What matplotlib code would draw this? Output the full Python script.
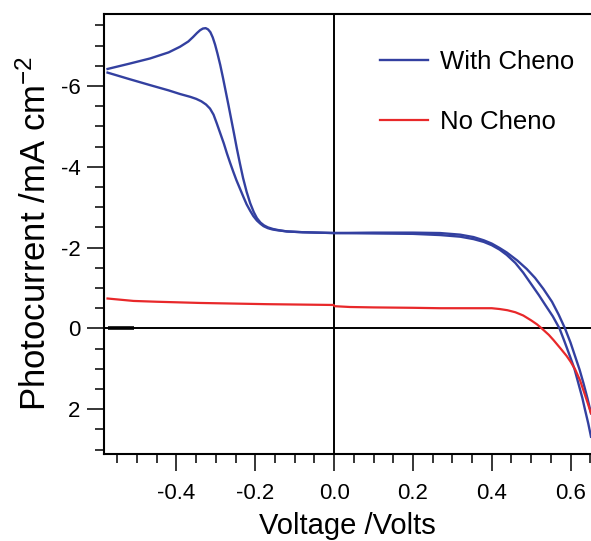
import matplotlib
matplotlib.use("Agg")
import matplotlib.pyplot as plt
from matplotlib.ticker import MultipleLocator, FixedLocator
from matplotlib.lines import Line2D

plt.rcParams['font.family'] = ['Liberation Sans', 'DejaVu Sans']
plt.rcParams['mathtext.fontset'] = 'custom'
plt.rcParams['mathtext.rm'] = 'Liberation Sans'
plt.rcParams['mathtext.it'] = 'Liberation Sans'
plt.rcParams['mathtext.bf'] = 'Liberation Sans'

# ---- data ----
# With Cheno: branch A (left lower branch, right inner branch)
cheno_a_v = [-0.575, -0.52, -0.467, -0.42, -0.391, -0.365, -0.35, -0.337, -0.325, -0.315, -0.306,
             -0.298, -0.289, -0.28, -0.272, -0.264, -0.256, -0.248, -0.239, -0.230, -0.222,
             -0.213, -0.205, -0.196, -0.187, -0.179, -0.168, -0.157, -0.145, -0.12,
             -0.08, -0.04, 0.0, 0.1, 0.2, 0.27, 0.32, 0.354, 0.38, 0.40, 0.42, 0.438, 0.46,
             0.48, 0.50, 0.52, 0.536, 0.555, 0.572, 0.585, 0.599, 0.61, 0.62, 0.63, 0.637,
             0.645, 0.652]
cheno_a_j = [-6.33, -6.17, -6.02, -5.89, -5.80, -5.73, -5.68, -5.62, -5.54, -5.44, -5.29,
             -5.08, -4.83, -4.58, -4.33, -4.10, -3.88, -3.67, -3.46, -3.25, -3.07,
             -2.91, -2.78, -2.67, -2.59, -2.53, -2.48, -2.45, -2.43, -2.40,
             -2.38, -2.37, -2.36, -2.35, -2.34, -2.31, -2.27, -2.21, -2.14, -2.06, -1.95, -1.82, -1.62,
             -1.38, -1.10, -0.82, -0.58, -0.30, 0.0, 0.33, 0.70, 1.00, 1.36, 1.72, 2.02,
             2.35, 2.68]
# With Cheno: branch B (upper branch with peak, right outer branch)
cheno_b_v = [-0.575, -0.52, -0.467, -0.42, -0.391, -0.37, -0.358, -0.348, -0.34, -0.333,
             -0.326, -0.32, -0.314, -0.308, -0.302, -0.296, -0.289, -0.282, -0.275, -0.268,
             -0.261, -0.254, -0.247, -0.239, -0.231, -0.222, -0.213, -0.204, -0.196, -0.187,
             -0.178, -0.168, -0.155, -0.14, -0.12, -0.08, -0.04, 0.0,
             0.1, 0.2, 0.269, 0.32, 0.354, 0.38, 0.40, 0.42, 0.438, 0.465, 0.489, 0.51, 0.531,
             0.553, 0.57, 0.586, 0.60, 0.612, 0.623, 0.633, 0.643, 0.652]
cheno_b_j = [-6.42, -6.55, -6.68, -6.83, -6.97, -7.10, -7.21, -7.31, -7.38, -7.42,
             -7.43, -7.40, -7.33, -7.20, -7.02, -6.80, -6.52, -6.20, -5.86, -5.52,
             -5.17, -4.82, -4.46, -4.08, -3.72, -3.38, -3.10, -2.88, -2.73, -2.62,
             -2.55, -2.50, -2.46, -2.43, -2.40, -2.38, -2.37, -2.36,
             -2.37, -2.37, -2.36, -2.32, -2.26, -2.18, -2.10, -1.99, -1.88, -1.68, -1.47, -1.25, -0.98,
             -0.66, -0.34, 0.0, 0.35, 0.70, 1.02, 1.36, 1.73, 2.10]
# No Cheno
nocheno_v = [-0.575, -0.509, -0.45, -0.34, -0.171, -0.001, 0.001, 0.04, 0.1, 0.2, 0.269,
             0.38, 0.40, 0.42, 0.44, 0.46, 0.48, 0.50, 0.515, 0.527, 0.545, 0.557, 0.575,
             0.59, 0.60, 0.612, 0.624, 0.641, 0.652]
nocheno_j = [-0.74, -0.68, -0.66, -0.63, -0.60, -0.58, -0.55, -0.53, -0.52, -0.51, -0.50,
             -0.50, -0.50, -0.48, -0.45, -0.40, -0.32, -0.20, -0.10, 0.0, 0.16, 0.29, 0.50,
             0.68, 0.82, 1.02, 1.28, 1.77, 2.10]
# short dark trace
dark_v = [-0.575, -0.509]
dark_j = [0.0, 0.0]

x_major = [-0.4, -0.2, 0.0, 0.2, 0.4, 0.6]
x_labels = ['-0.4', '-0.2', '0.0', '0.2', '0.4', '0.6']
y_major = [-6, -4, -2, 0, 2]
y_labels = ['-6', '-4', '-2', '0', '2']

blue = '#3340a0'
red = '#e8282a'

fig = plt.figure(figsize=(5.91, 5.41), dpi=100)
ax = fig.add_axes([104/591, 1-453.7/541, (591-104)/591, (453.7-14)/541])

ax.axhline(0, color='black', lw=1.4, zorder=1)
ax.axvline(0, color='black', lw=1.4, zorder=1)
ax.plot(dark_v, dark_j, color='black', lw=2.6, zorder=2, solid_capstyle='butt')
ax.plot(cheno_a_v, cheno_a_j, color=blue, lw=1.7, zorder=3)
ax.plot(cheno_b_v, cheno_b_j, color=blue, lw=1.7, zorder=3)
ax.plot(nocheno_v, nocheno_j, color=red, lw=1.6, zorder=3)

ax.set_xlim(-0.584, 0.652)
ax.set_ylim(3.10, -7.78)

ax.xaxis.set_major_locator(FixedLocator(x_major))
ax.set_xticklabels(x_labels)
ax.xaxis.set_minor_locator(MultipleLocator(0.05))
ax.yaxis.set_major_locator(FixedLocator(y_major))
ax.set_yticklabels(y_labels)
ax.yaxis.set_minor_locator(MultipleLocator(0.5))

ax.tick_params(which='major', direction='out', length=12, width=1.1, labelsize=16, color='black')
ax.tick_params(which='minor', direction='out', length=6.3, width=1.1, color='black')
ax.tick_params(axis='x', which='major', pad=9)
ax.tick_params(axis='y', which='major', pad=5)

for s in ['left', 'bottom', 'top']:
    ax.spines[s].set_linewidth(1.5)
ax.spines['right'].set_visible(False)

ax.set_xlabel('Voltage /Volts', fontsize=21, labelpad=6)
ax.set_ylabel('Photocurrent /mA cm$^{-2}$', fontsize=25, labelpad=6)

handles = [Line2D([], [], color=blue, lw=1.7), Line2D([], [], color=red, lw=1.6)]
ax.legend(handles, ['With Cheno', 'No Cheno'], loc='upper left',
          bbox_to_anchor=(0.567, 0.919), frameon=False, fontsize=18.5,
          handlelength=1.87, handletextpad=0.47, labelspacing=1.4,
          borderpad=0, borderaxespad=0)

fig.savefig('out.png', dpi=100)
